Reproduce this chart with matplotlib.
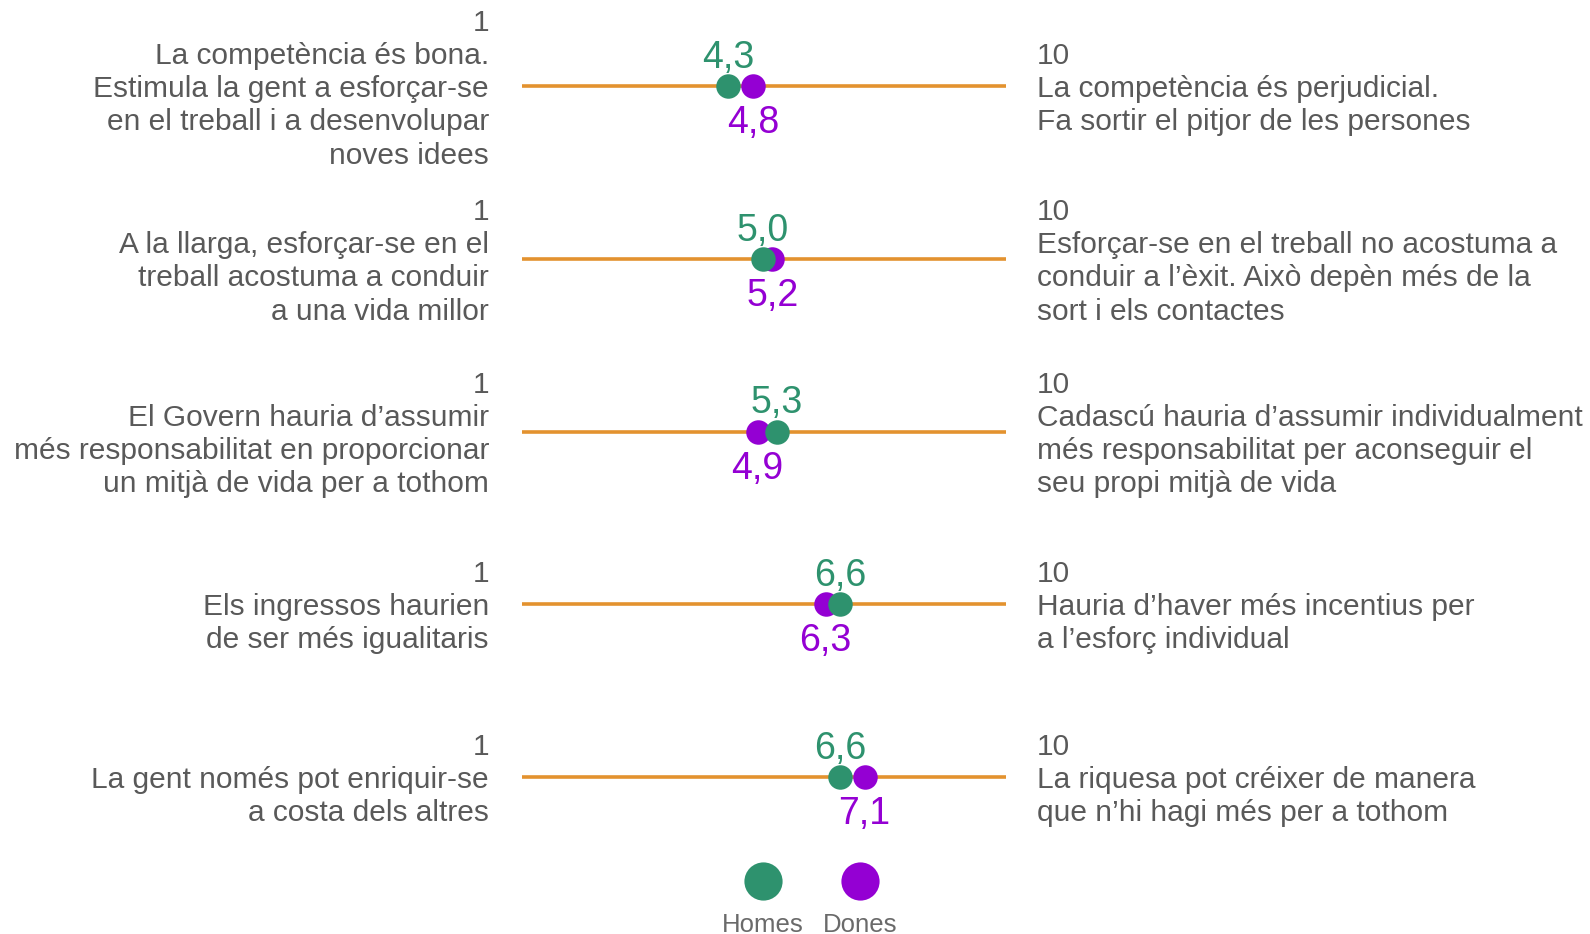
import matplotlib
matplotlib.use("Agg")
import matplotlib.pyplot as plt
from matplotlib.transforms import blended_transform_factory, offset_copy

plt.rcParams['font.family'] = ['Liberation Sans', 'DejaVu Sans']

# ---------------- data ----------------
left_labels = [
    "La competència és bona.\nEstimula la gent a esforçar-se\nen el treball i a desenvolupar\nnoves idees",
    "A la llarga, esforçar-se en el\ntreball acostuma a conduir\na una vida millor",
    "El Govern hauria d’assumir\nmés responsabilitat en proporcionar\nun mitjà de vida per a tothom",
    "Els ingressos haurien\nde ser més igualitaris",
    "La gent només pot enriquir-se\na costa dels altres",
]
right_labels = [
    "La competència és perjudicial.\nFa sortir el pitjor de les persones",
    "Esforçar-se en el treball no acostuma a\nconduir a l’èxit. Això depèn més de la\nsort i els contactes",
    "Cadascú hauria d’assumir individualment\nmés responsabilitat per aconseguir el\nseu propi mitjà de vida",
    "Hauria d’haver més incentius per\na l’esforç individual",
    "La riquesa pot créixer de manera\nque n’hi hagi més per a tothom",
]
scale_min = 1
scale_max = 10
homes = [4.3, 5.0, 5.3, 6.6, 6.6]
dones = [4.8, 5.2, 4.9, 6.3, 7.1]
series_names = ["Homes", "Dones"]

# ---------------- style ----------------
W, H = 1590, 934
GREEN = "#2E926E"
PURPLE = "#9400D3"
ORANGE = "#E3922F"
GREY = "#595959"
LEG_GREY = "#6A6A6A"

fig = plt.figure(figsize=(W / 100, H / 100), dpi=100)
ax = fig.add_axes([0, 0, 1, 1])
ax.axis("off")

# x: value 0 -> 519 px, 10 -> 1005 px ; y: row i -> 86.2 + 172.65*i px from top
x0_px, ppu = 519.5, 48.6
y0_px, row_px = 86.2, 172.65
ax.set_xlim(-x0_px / ppu, (W - x0_px) / ppu)
ax.set_ylim((H - y0_px) / row_px, -y0_px / row_px)

rows = list(range(len(homes)))
trans = blended_transform_factory(fig.transFigure, ax.transData)
trans_txt = offset_copy(trans, fig=fig, x=0, y=-3, units="dots")

for i in rows:
    ax.plot([0.06, scale_max], [i, i], color=ORANGE, lw=2.6, solid_capstyle="butt", zorder=1)
    ax.text(489 / W, i, f"{scale_min}\n" + left_labels[i], transform=trans_txt,
            ha="right", va="center", multialignment="right",
            fontsize=21.5, color=GREY, linespacing=1.24)
    ax.text(1037 / W, i, f"{scale_max}\n" + right_labels[i], transform=trans_txt,
            ha="left", va="center", multialignment="left",
            fontsize=21.5, color=GREY, linespacing=1.24)

ax.scatter(dones, rows, s=311, color=PURPLE, zorder=3, linewidths=0)
ax.scatter(homes, rows, s=311, color=GREEN, zorder=4, linewidths=0)

def fmt(v):
    return f"{v:.1f}".replace(".", ",")

for i in rows:
    ax.annotate(fmt(homes[i]), xy=(homes[i], i), xytext=(0, 18),
                textcoords="offset pixels", ha="center", va="baseline",
                fontsize=27, color=GREEN)
    ax.annotate(fmt(dones[i]), xy=(dones[i], i), xytext=(0, -47),
                textcoords="offset pixels", ha="center", va="baseline",
                fontsize=27, color=PURPLE)

# legend (dots above names)
leg_x = [763 / W, 860 / W]
leg_colors = [GREEN, PURPLE]
for lx, c, name in zip(leg_x, leg_colors, series_names):
    fig.add_artist(plt.Line2D([lx], [(H - 881) / H], marker="o", markersize=27.5,
                              color=c, markeredgewidth=0, linestyle="none",
                              transform=fig.transFigure))
    fig.text(lx, (H - 932) / H, name, ha="center", va="baseline",
             fontsize=18.5, color=LEG_GREY)

fig.savefig("out.png", dpi=100)
